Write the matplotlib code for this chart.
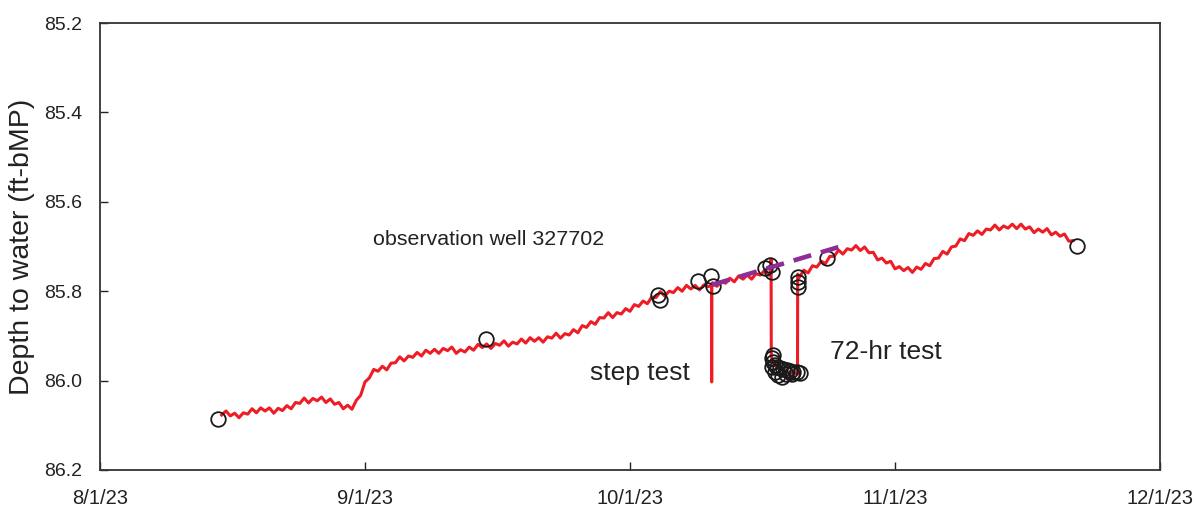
import matplotlib
matplotlib.use("Agg")
import matplotlib.pyplot as plt
from matplotlib.ticker import FixedLocator, FixedFormatter

plt.rcParams['font.family'] = ['Liberation Sans', 'DejaVu Sans']

# x values are days since 8/1/23
tick_days = [0, 30.5, 61, 91.5, 122]
tick_labels = ["8/1/23", "9/1/23", "10/1/23", "11/1/23", "12/1/23"]
y_ticks = [85.2, 85.4, 85.6, 85.8, 86.0, 86.2]

# continuous logger record (depth to water, ft-bMP), read every half day
logger_days = [
    14, 14.5, 15, 15.5, 16, 16.5, 17, 17.5, 18, 18.5, 19, 19.5, 20, 20.5, 21, 21.5,
    22, 22.5, 23, 23.5, 24, 24.5, 25, 25.5, 26, 26.5, 27, 27.5, 28, 28.5, 29, 29.5,
    30, 30.5, 31, 31.5, 32, 32.5, 33, 33.5, 34, 34.5, 35, 35.5, 36, 36.5, 37, 37.5,
    38, 38.5, 39, 39.5, 40, 40.5, 41, 41.5, 42, 42.5, 43, 43.5, 44, 44.5, 45, 45.5,
    46, 46.5, 47, 47.5, 48, 48.5, 49, 49.5, 50, 50.5, 51, 51.5, 52, 52.5, 53, 53.5,
    54, 54.5, 55, 55.5, 56, 56.5, 57, 57.5, 58, 58.5, 59, 59.5, 60, 60.5, 61, 61.5,
    62, 62.5, 63, 63.5, 64, 64.5, 65, 65.5, 66, 66.5, 67, 67.5, 68, 68.5, 69, 69.5,
    70, 70.38, 70.40, 70.42, 70.5, 71, 71.5, 72, 72.5, 73, 73.5, 74, 74.5, 75, 75.5,
    76, 76.5, 77, 77.22, 77.24, 77.26, 77.5, 78, 78.5, 79, 79.5, 80, 80.28, 80.30,
    80.5, 81, 81.5, 82, 82.5, 83, 83.5, 84, 84.5, 85, 85.5, 86, 86.5, 87, 87.5,
    88, 88.5, 89, 89.5, 90, 90.5, 91, 91.5, 92, 92.5, 93, 93.5, 94, 94.5, 95, 95.5,
    96, 96.5, 97, 97.5, 98, 98.5, 99, 99.5, 100, 100.5, 101, 101.5, 102, 102.5,
    103, 103.5, 104, 104.5, 105, 105.5, 106, 106.5, 107, 107.5, 108, 108.5, 109,
    109.5, 110, 110.5, 111, 111.5, 112]
logger_depth = [
    86.077, 86.068, 86.079, 86.073, 86.083, 86.072, 86.075, 86.063, 86.072, 86.061,
    86.068, 86.061, 86.073, 86.062, 86.067, 86.056, 86.063, 86.049, 86.051, 86.039,
    86.050, 86.040, 86.045, 86.037, 86.049, 86.041, 86.053, 86.049, 86.063, 86.055,
    86.064, 86.044, 86.033, 86.003, 85.994, 85.975, 85.979, 85.968, 85.976, 85.961,
    85.960, 85.947, 85.956, 85.945, 85.948, 85.937, 85.945, 85.932, 85.939, 85.930,
    85.939, 85.928, 85.933, 85.925, 85.939, 85.931, 85.936, 85.925, 85.932, 85.919,
    85.926, 85.918, 85.928, 85.917, 85.921, 85.911, 85.923, 85.914, 85.918, 85.907,
    85.916, 85.904, 85.912, 85.904, 85.914, 85.902, 85.905, 85.894, 85.905, 85.895,
    85.898, 85.886, 85.893, 85.877, 85.881, 85.868, 85.874, 85.859, 85.860, 85.848,
    85.859, 85.848, 85.851, 85.839, 85.845, 85.830, 85.834, 85.822, 85.828, 85.813,
    85.814, 85.801, 85.811, 85.800, 85.803, 85.792, 85.800, 85.787, 85.795, 85.787,
    85.797, 85.786, 85.790, 85.787, 86.003, 85.787, 85.781, 85.789, 85.779, 85.782,
    85.771, 85.779, 85.766, 85.773, 85.764, 85.773, 85.761, 85.764, 85.753, 85.764,
    85.756, 85.728, 85.945, 85.962, 85.972, 85.976, 85.980, 85.982, 85.984, 85.986,
    85.762, 85.769, 85.753, 85.759, 85.743, 85.746, 85.733, 85.738, 85.722, 85.722,
    85.708, 85.717, 85.705, 85.708, 85.698, 85.709, 85.701, 85.714, 85.713, 85.730,
    85.726, 85.737, 85.733, 85.750, 85.745, 85.754, 85.747, 85.758, 85.746, 85.751,
    85.738, 85.743, 85.727, 85.726, 85.711, 85.717, 85.701, 85.699, 85.683, 85.687,
    85.671, 85.675, 85.665, 85.673, 85.661, 85.663, 85.652, 85.663, 85.654, 85.659,
    85.650, 85.660, 85.650, 85.661, 85.656, 85.669, 85.661, 85.668, 85.660, 85.674,
    85.668, 85.677, 85.672, 85.688, 85.687]

# manual measurements (open circles)
manual_days = [13.6, 44.4, 64.2, 64.5, 68.8, 70.3, 70.6, 76.5, 77.1, 77.3,
               80.3, 80.3, 80.3, 83.7, 112.5,
               77.41, 77.30, 77.48, 77.67, 77.87, 78.25, 78.63, 79.02, 79.40,
               79.78, 80.17, 80.55, 77.67, 78.06, 78.45, 77.30, 78.9, 79.6]
manual_depth = [86.086, 85.907, 85.809, 85.820, 85.777, 85.766, 85.788, 85.748,
                85.741, 85.757, 85.768, 85.779, 85.790, 85.726, 85.699,
                85.943, 85.950, 85.958, 85.965, 85.969, 85.972, 85.975, 85.976,
                85.978, 85.980, 85.980, 85.982, 85.980, 85.987, 85.991, 85.969,
                85.986, 85.985]

# trend line
trend_days = [70.43, 86.08]
trend_depth = [85.786, 85.695]

fig = plt.figure(figsize=(11.94, 5.08), dpi=100)
ax = fig.add_axes([100/1194, 1 - 470/508, 1060/1194, 447/508])

ax.plot(logger_days, logger_depth, color='#EE1C25', lw=2.2, zorder=2)
ax.plot(manual_days, manual_depth, linestyle='none', marker='o', markersize=10.5,
        markerfacecolor='none', markeredgecolor='#1a1a1a', markeredgewidth=1.3, zorder=3)
ax.plot(trend_days, trend_depth, color='#8E2D96', lw=3.3, dashes=(4, 2.2),
        solid_capstyle='butt', dash_capstyle='butt', zorder=4)

ax.text(31.4, 85.685, "observation well 327702", fontsize=15.4, va='center', ha='left', color='#222222')
ax.text(56.4, 85.983, "step test", fontsize=19, va='center', ha='left', color='#222222')
ax.text(84.0, 85.936, "72-hr test", fontsize=19, va='center', ha='left', color='#222222')

ax.set_xlim(0, 122)
ax.set_ylim(86.2, 85.2)
ax.xaxis.set_major_locator(FixedLocator(tick_days))
ax.xaxis.set_major_formatter(FixedFormatter(tick_labels))
ax.set_yticks(y_ticks)
ax.set_yticklabels([f"{v:.1f}" for v in y_ticks])
ax.tick_params(axis='both', direction='in', length=6, width=1, colors='#222222')
ax.tick_params(axis='y', labelsize=14, pad=13)
ax.tick_params(axis='x', labelsize=14.5, pad=14)
ax.set_ylabel("Depth to water (ft-bMP)", fontsize=20.5, color='#222222', labelpad=6)
for s in ax.spines.values():
    s.set_linewidth(1.3)
    s.set_color('#333333')

fig.savefig("out.png", dpi=100)
